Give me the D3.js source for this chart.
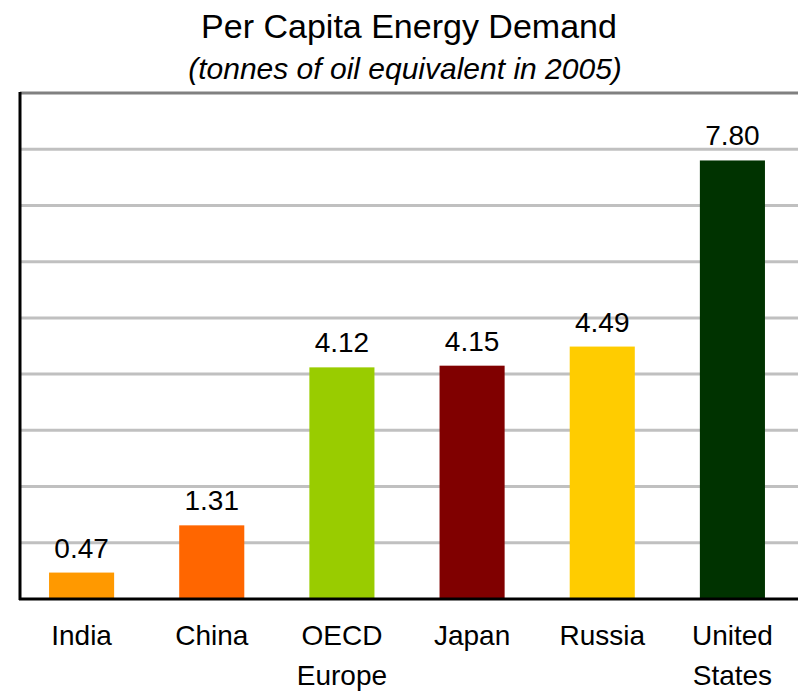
<!DOCTYPE html>
<html><head><meta charset="utf-8">
<script src="https://cdn.jsdelivr.net/npm/d3@7"></script>
<style>body{margin:0;background:#fff;}svg{display:block;}</style>
</head><body>
<script>
const categories = [["India"],["China"],["OECD","Europe"],["Japan"],["Russia"],["United","States"]];
const values = [0.47, 1.31, 4.12, 4.15, 4.49, 7.80];
const valueLabels = ["0.47","1.31","4.12","4.15","4.49","7.80"];
const colors = ["#FF9900","#FF6600","#99CC00","#800000","#FFCC00","#003300"];
const gridTicks = [1,2,3,4,5,6,7,8];
const title = "Per Capita Energy Demand";
const subtitle = "(tonnes of oil equivalent in 2005)";

const W = 798, H = 692;
const svg = d3.select("body").append("svg").attr("width", W).attr("height", H);
const font = "'Liberation Sans', Arial, sans-serif";

const x = d3.scaleBand().domain(d3.range(categories.length)).range([16.5, 797.5]).paddingInner(0.5).paddingOuter(0.25);
const y = d3.scaleLinear().domain([0, 9]).range([599, 93]);

svg.append("text").attr("x", 409).attr("y", 38).attr("text-anchor","middle")
  .attr("font-family", font).attr("font-size", 34).attr("fill","#000").text(title);
svg.append("text").attr("x", 405).attr("y", 79).attr("text-anchor","middle")
  .attr("font-family", font).attr("font-size", 30).attr("font-style","italic").attr("fill","#000").text(subtitle);

// gridlines
svg.append("g").selectAll("line").data(gridTicks).join("line")
  .attr("x1", 20).attr("x2", W).attr("y1", d => y(d)).attr("y2", d => y(d))
  .attr("stroke", "#c0c0c0").attr("stroke-width", 3);
svg.append("line").attr("x1", 20).attr("x2", W).attr("y1", y(9)).attr("y2", y(9))
  .attr("stroke", "#808080").attr("stroke-width", 3);

// bars
svg.append("g").selectAll("rect").data(values).join("rect")
  .attr("x", (d,i) => x(i)).attr("width", x.bandwidth())
  .attr("y", d => y(d)).attr("height", d => y(0) - y(d))
  .attr("fill", (d,i) => colors[i]);

// value labels
svg.append("g").selectAll("text").data(values).join("text")
  .attr("x", (d,i) => x(i) + x.bandwidth()/2).attr("y", d => y(d) - 15)
  .attr("text-anchor","middle").attr("font-family", font).attr("font-size", 28).attr("fill","#000")
  .text((d,i) => valueLabels[i]);

// axes lines
svg.append("line").attr("x1", 20).attr("x2", 20).attr("y1", 92).attr("y2", 600).attr("stroke","#000").attr("stroke-width",3);
svg.append("line").attr("x1", 19).attr("x2", W).attr("y1", 599).attr("y2", 599).attr("stroke","#000").attr("stroke-width",3);

// category labels
const cat = svg.append("g").selectAll("text").data(categories).join("text")
  .attr("x", (d,i) => x(i) + x.bandwidth()/2).attr("y", 645)
  .attr("text-anchor","middle").attr("font-family", font).attr("font-size", 28).attr("fill","#000");
cat.selectAll("tspan").data(d => d).join("tspan")
  .attr("x", function(){ return this.parentNode.getAttribute("x"); })
  .attr("dy", (d,j) => j === 0 ? 0 : 40).text(d => d);
</script>
</body></html>
